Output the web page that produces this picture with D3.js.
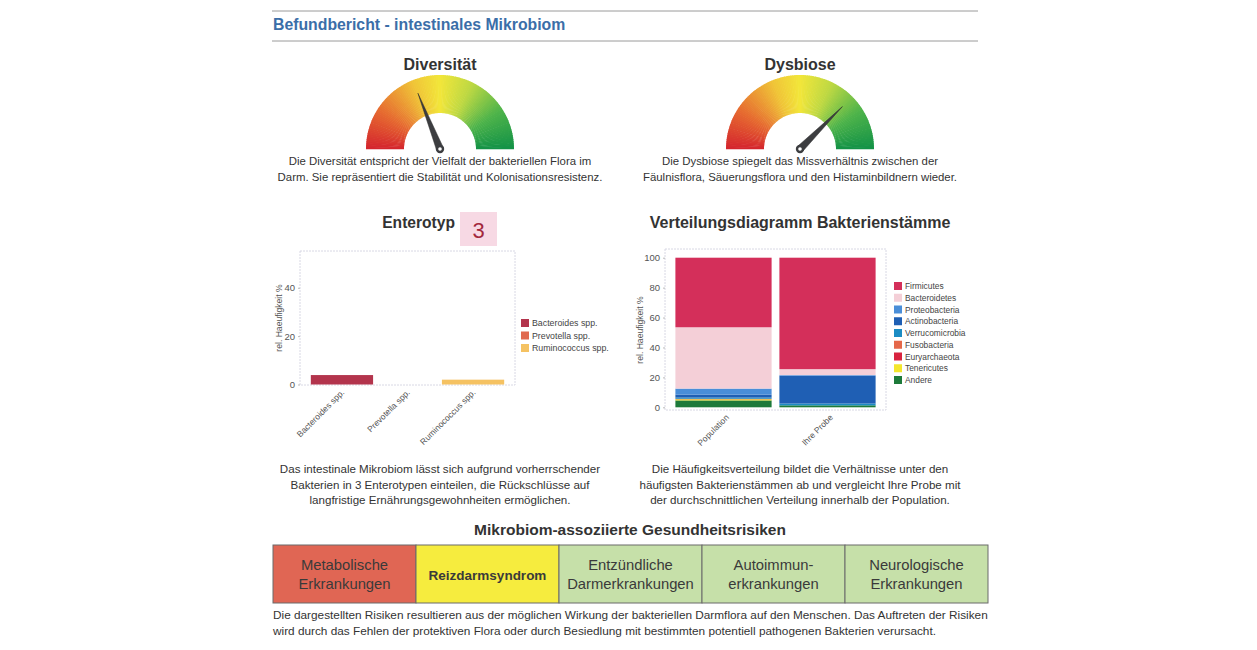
<!DOCTYPE html>
<html>
<head>
<meta charset="utf-8">
<script src="https://cdn.jsdelivr.net/npm/d3@7"></script>
<style>
  body { margin: 0; background: #fff; }
  text { font-family: "Liberation Sans", Arial, sans-serif; }
</style>
</head>
<body>
<div id="chart"></div>
<script>
// gauges
const gaugeNames = ["Diversität", "Dysbiose"];
const gaugeValues = [38, 75];
const gaugeTexts = [
  ["Die Diversität entspricht der Vielfalt der bakteriellen Flora im",
   "Darm. Sie repräsentiert die Stabilität und Kolonisationsresistenz."],
  ["Die Dysbiose spiegelt das Missverhältnis zwischen der",
   "Fäulnisflora, Säuerungsflora und den Histaminbildnern wieder."]
];

// enterotyp
const enteroType = "3";
const enteroCategories = ["Bacteroides spp.", "Prevotella spp.", "Ruminococcus spp."];
const enteroValues = [3.9, 0, 2.0];
const enteroTicks = [0, 20, 40];
const enteroText = [
  "Das intestinale Mikrobiom lässt sich aufgrund vorherrschender",
  "Bakterien in 3 Enterotypen einteilen, die Rückschlüsse auf",
  "langfristige Ernährungsgewohnheiten ermöglichen."
];

// bacterial phyla
const phyla = ["Firmicutes", "Bacteroidetes", "Proteobacteria", "Actinobacteria",
  "Verrucomicrobia", "Fusobacteria", "Euryarchaeota", "Tenericutes", "Andere"];
const samples = ["Population", "Ihre Probe"];
const populationValues = [46.5, 41.0, 4.0, 2.0, 0.8, 0.1, 0.2, 0.8, 4.6];
const probeValues = [74.5, 4.0, 0.5, 18.5, 1.2, 0, 0, 0, 1.3];
const stackTicks = [0, 20, 40, 60, 80, 100];
const stackText = [
  "Die Häufigkeitsverteilung bildet die Verhältnisse unter den",
  "häufigsten Bakterienstämmen ab und vergleicht Ihre Probe mit",
  "der durchschnittlichen Verteilung innerhalb der Population."
];

// risks
const riskLabels = [["Metabolische", "Erkrankungen"], ["Reizdarmsyndrom"],
  ["Entzündliche", "Darmerkrankungen"], ["Autoimmun-", "erkrankungen"],
  ["Neurologische", "Erkrankungen"]];
const riskLevels = ["hoch", "mittel", "niedrig", "niedrig", "niedrig"];
const riskText = [
  "Die dargestellten Risiken resultieren aus der möglichen Wirkung der bakteriellen Darmflora auf den Menschen. Das Auftreten der Risiken",
  "wird durch das Fehlen der protektiven Flora oder durch Besiedlung mit bestimmten potentiell pathogenen Bakterien verursacht."
];

const enteroColors = ["#b3344c", "#e0694f", "#f5c262"];
const phylaColors = ["#d42f5a", "#f4cfd7", "#4a8ed8", "#1f5fb4", "#1b8cc4",
  "#e5684a", "#d8233f", "#f4e62c", "#1d7a3a"];
const riskColors = { hoch: "#e06654", mittel: "#f6ec3e", niedrig: "#c6e0a9" };

const width = 1257, height = 650;
const svg = d3.select("#chart").append("svg")
  .attr("width", width).attr("height", height);

//Header
svg.append("line").attr("x1", 272).attr("x2", 978).attr("y1", 11).attr("y2", 11)
  .attr("stroke", "#9a9a9a").attr("stroke-width", 1);
svg.append("line").attr("x1", 272).attr("x2", 978).attr("y1", 41).attr("y2", 41)
  .attr("stroke", "#9a9a9a").attr("stroke-width", 1);
svg.append("text").attr("x", 273).attr("y", 30)
  .attr("font-size", 15.8).attr("font-weight", "bold").attr("fill", "#3b6ea8")
  .text("Befundbericht - intestinales Mikrobiom");

function centeredLines(lines, cx, y0, dy, size) {
  const t = svg.append("text").attr("text-anchor", "middle")
    .attr("font-size", size).attr("fill", "#333");
  lines.forEach((l, i) => t.append("tspan").attr("x", cx).attr("y", y0 + i * dy).text(l));
}

//Gauges
const gaugeColor = d3.scaleLinear()
  .domain([0, 0.18, 0.38, 0.5, 0.65, 0.82, 1])
  .range(["#d4242e", "#e66a30", "#f0c538", "#f2e63a", "#bcd843", "#4fb44a", "#139247"]);
const gaugeAngle = d3.scaleLinear().domain([0, 100]).range([-Math.PI / 2, Math.PI / 2]);
const gaugeCenters = [440, 800];

gaugeNames.forEach((name, gi) => {
  const cx = gaugeCenters[gi], cy = 149;
  const g = svg.append("g").attr("transform", `translate(${cx},${cy})`);
  const steps = d3.range(120);
  const arc = d3.arc().innerRadius(36).outerRadius(74);
  g.selectAll("path.seg").data(steps).join("path")
    .attr("class", "seg")
    .attr("d", d => arc({
      startAngle: gaugeAngle(d / 120 * 100) - 0.005,
      endAngle: gaugeAngle((d + 1) / 120 * 100) + 0.005
    }))
    .attr("fill", d => gaugeColor((d + 0.5) / 120));

  // needle
  const a = gaugeAngle(gaugeValues[gi]);
  const L = 60, w = 3.6;
  const tip = [L * Math.sin(a), -L * Math.cos(a)];
  const px = Math.cos(a) * w, py = Math.sin(a) * w;
  g.append("path")
    .attr("d", `M${px},${py} L${tip[0]},${tip[1]} L${-px},${-py} Z`)
    .attr("fill", "#3c3d40").attr("stroke", "#2a2a2a").attr("stroke-width", 0.5);
  g.append("circle").attr("r", 4.2).attr("fill", "#3c3d40");
  g.append("circle").attr("r", 1.8).attr("fill", "#fff");

  svg.append("text").attr("x", cx).attr("y", 70).attr("text-anchor", "middle")
    .attr("font-size", 16).attr("font-weight", "bold").attr("fill", "#333")
    .text(name);
  centeredLines(gaugeTexts[gi], cx, 165, 16, 11.4);
});

//Enterotyp chart
svg.append("text").attr("x", 455).attr("y", 228).attr("text-anchor", "end")
  .attr("font-size", 15.6).attr("font-weight", "bold").attr("fill", "#333")
  .text("Enterotyp");
svg.append("rect").attr("x", 460).attr("y", 212).attr("width", 37).attr("height", 34)
  .attr("fill", "#f7d9e4");
svg.append("text").attr("x", 478.5).attr("y", 238).attr("text-anchor", "middle")
  .attr("font-size", 22).attr("fill", "#a3283d").text(enteroType);

const ex = d3.scaleBand().domain(enteroCategories).range([300, 515])
  .paddingInner(0.05).paddingOuter(0.165);
const ey = d3.scaleLinear().domain([0, 55.2]).range([384.5, 251]);

svg.append("rect").attr("x", 300).attr("y", 251).attr("width", 215).attr("height", 134)
  .attr("fill", "none").attr("stroke", "#d8d8e4").attr("stroke-dasharray", "2,1");

svg.selectAll("rect.ebar").data(enteroCategories).join("rect")
  .attr("class", "ebar")
  .attr("x", d => ex(d)).attr("width", ex.bandwidth())
  .attr("y", (d, i) => ey(enteroValues[i]))
  .attr("height", (d, i) => ey(0) - ey(enteroValues[i]))
  .attr("fill", (d, i) => enteroColors[i]);

const eyAxis = svg.append("g").attr("transform", "translate(300,0)")
  .call(d3.axisLeft(ey).tickValues(enteroTicks).tickSize(2).tickPadding(3));
eyAxis.select(".domain").remove();
eyAxis.selectAll("line").attr("stroke", "#bbb");
eyAxis.selectAll("text").attr("font-size", 9.5).attr("fill", "#555")
  .style("font-family", "Liberation Sans, Arial, sans-serif");

const exAxis = svg.append("g").attr("transform", "translate(0,385)")
  .call(d3.axisBottom(ex).tickSize(0).tickPadding(0));
exAxis.select(".domain").remove();
exAxis.selectAll("text")
  .attr("text-anchor", "end").attr("dy", 0).attr("y", 0)
  .attr("transform", "translate(3,8) rotate(-45)")
  .attr("font-size", 8.5).attr("fill", "#555")
  .style("font-family", "Liberation Sans, Arial, sans-serif");

svg.append("text").attr("transform", "translate(282,318) rotate(-90)")
  .attr("text-anchor", "middle").attr("font-size", 8.6).attr("fill", "#555")
  .text("rel. Haeufigkeit %");

const eLeg = svg.append("g").attr("transform", "translate(521,319)");
enteroCategories.forEach((c, i) => {
  eLeg.append("rect").attr("x", 0).attr("y", i * 12.5).attr("width", 8).attr("height", 8)
    .attr("fill", enteroColors[i]);
  eLeg.append("text").attr("x", 11).attr("y", i * 12.5 + 7).attr("font-size", 8.8)
    .attr("fill", "#444").text(c);
});

centeredLines(enteroText, 440, 473, 15.5, 11.6);

//Stacked chart
svg.append("text").attr("x", 800).attr("y", 228).attr("text-anchor", "middle")
  .attr("font-size", 16).attr("font-weight", "bold").attr("fill", "#333")
  .text("Verteilungsdiagramm Bakterienstämme");

const stackRows = samples.map((s, si) => {
  const row = { sample: s };
  const vals = si === 0 ? populationValues : probeValues;
  phyla.forEach((p, pi) => row[p] = vals[pi]);
  return row;
});
const stacked = d3.stack().keys(phyla.slice().reverse())(stackRows);

const sx = d3.scaleBand().domain(samples).range([665, 886])
  .paddingInner(0.075).paddingOuter(0.1);
const sy = d3.scaleLinear().domain([0, 100]).range([407.3, 257.7]);

svg.append("rect").attr("x", 665).attr("y", 249).attr("width", 221).attr("height", 161)
  .attr("fill", "none").attr("stroke", "#d8d8e4").attr("stroke-dasharray", "2,1");

svg.selectAll("g.layer").data(stacked).join("g")
  .attr("class", "layer")
  .attr("fill", d => phylaColors[phyla.indexOf(d.key)])
  .selectAll("rect").data(d => d).join("rect")
  .attr("x", d => sx(d.data.sample)).attr("width", sx.bandwidth())
  .attr("y", d => sy(d[1])).attr("height", d => sy(d[0]) - sy(d[1]));

const syAxis = svg.append("g").attr("transform", "translate(665,0)")
  .call(d3.axisLeft(sy).tickValues(stackTicks).tickSize(2).tickPadding(3));
syAxis.select(".domain").remove();
syAxis.selectAll("line").attr("stroke", "#bbb");
syAxis.selectAll("text").attr("font-size", 9.5).attr("fill", "#555")
  .style("font-family", "Liberation Sans, Arial, sans-serif");

const sxAxis = svg.append("g").attr("transform", "translate(0,410)")
  .call(d3.axisBottom(sx).tickSize(0).tickPadding(0));
sxAxis.select(".domain").remove();
sxAxis.selectAll("text")
  .attr("text-anchor", "end").attr("dy", 0).attr("y", 0)
  .attr("transform", "translate(6,8) rotate(-45)")
  .attr("font-size", 8.5).attr("fill", "#555")
  .style("font-family", "Liberation Sans, Arial, sans-serif");

svg.append("text").attr("transform", "translate(643,330) rotate(-90)")
  .attr("text-anchor", "middle").attr("font-size", 8.6).attr("fill", "#555")
  .text("rel. Haeufigkeit %");

const sLeg = svg.append("g").attr("transform", "translate(894,282)");
phyla.forEach((p, i) => {
  sLeg.append("rect").attr("x", 0).attr("y", i * 11.75).attr("width", 8).attr("height", 8)
    .attr("fill", phylaColors[i]);
  sLeg.append("text").attr("x", 11).attr("y", i * 11.75 + 7).attr("font-size", 8.4)
    .attr("fill", "#444").text(p);
});

centeredLines(stackText, 800, 473, 15.5, 11.6);

//Risks
svg.append("text").attr("x", 630).attr("y", 535).attr("text-anchor", "middle")
  .attr("font-size", 15.5).attr("font-weight", "bold").attr("fill", "#333")
  .text("Mikrobiom-assoziierte Gesundheitsrisiken");

const rx = d3.scaleBand().domain(d3.range(riskLabels.length)).range([273, 988]);
const rg = svg.selectAll("g.risk").data(riskLabels).join("g")
  .attr("class", "risk")
  .attr("transform", (d, i) => `translate(${rx(i)},545)`);
rg.append("rect").attr("width", rx.bandwidth()).attr("height", 58)
  .attr("fill", (d, i) => riskColors[riskLevels[i]])
  .attr("stroke", "#6b6b6b").attr("stroke-width", 1);
rg.each(function (d, i) {
  const single = d.length === 1;
  const t = d3.select(this).append("text").attr("text-anchor", "middle")
    .attr("font-size", single ? 13.5 : 14.8).attr("fill", "#3a3a3a")
    .attr("font-weight", single ? "bold" : "normal");
  const y0 = single ? 35 : 25;
  d.forEach((l, li) => t.append("tspan").attr("x", rx.bandwidth() / 2)
    .attr("y", y0 + li * 19).text(l));
});

const ft = svg.append("text").attr("font-size", 11.8).attr("fill", "#333");
riskText.forEach((l, i) => ft.append("tspan").attr("x", 273).attr("y", 619 + i * 16).text(l));
</script>
</body>
</html>
